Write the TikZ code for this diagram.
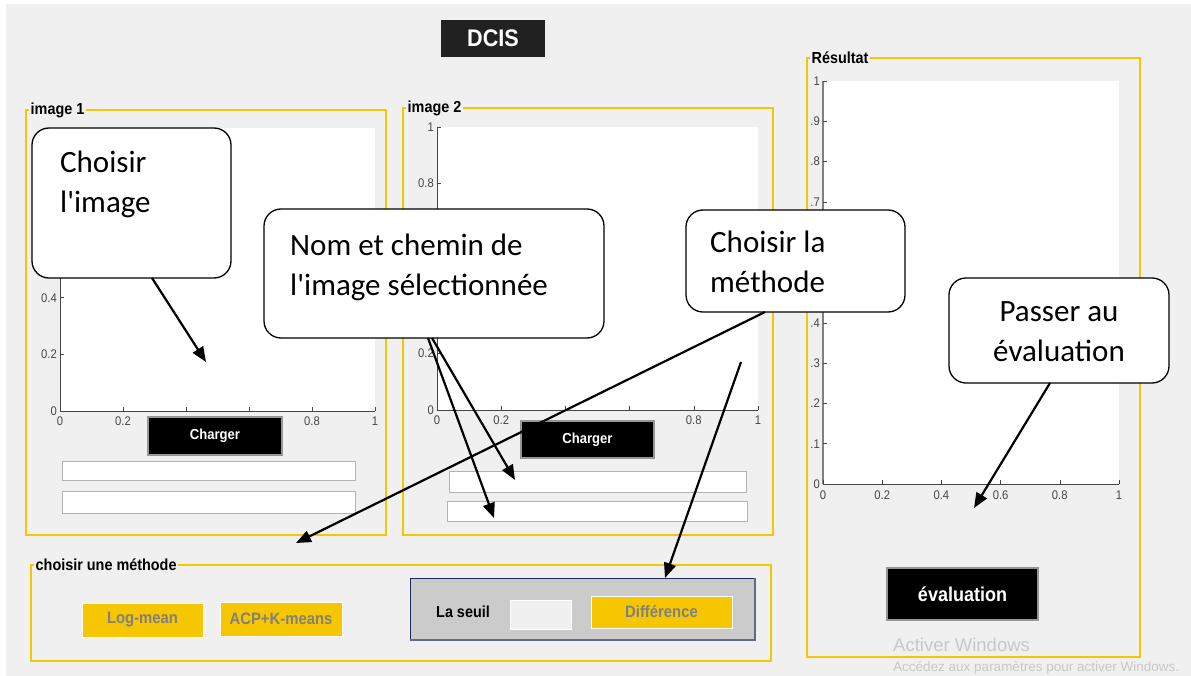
\documentclass[tikz,border=0pt]{standalone}
\usepackage{fontspec}
\setmainfont{Carlito}
\newfontfamily\gui[FakeStretch=0.9]{Liberation Sans}
\newfontfamily\win{Liberation Sans}
\usetikzlibrary{arrows.meta,calc}
\definecolor{bggray}{RGB}{240,240,240}
\definecolor{ylw}{RGB}{246,198,0}
\definecolor{tickc}{RGB}{70,70,70}
\definecolor{btnborder}{RGB}{150,150,150}
\definecolor{subgray}{RGB}{203,203,203}
\definecolor{navy}{RGB}{30,40,90}
\definecolor{wmark}{RGB}{200,200,200}
\tikzset{
  box/.style={anchor=north west, inner sep=0pt, outer sep=0pt},
  panel/.style={box, draw=ylw, line width=1.8pt},
  ptitle/.style={anchor=west, fill=bggray, inner sep=1.5pt, font=\gui\bfseries\fontsize{16}{16}\selectfont},
  blackbtn/.style={box, fill=black, draw=btnborder, line width=1.5pt, text=white, font=\gui\bfseries\fontsize{14.5}{14.5}\selectfont},
  ybtn/.style={box, fill=ylw, draw=white, line width=1pt, text=gray, font=\gui\bfseries\fontsize{16.5}{16.5}\selectfont},
  field/.style={box, fill=white, draw=gray!60, line width=0.8pt},
  plot/.style={box, fill=white},
  ticklab/.style={text=tickc, inner sep=1pt, font=\gui\fontsize{12.5}{12.5}\selectfont},
  callout/.style={box, draw=black, line width=1.3pt, fill=white, rounded corners=17pt},
  ctext/.style={anchor=north west, align=left, inner sep=0pt, font=\fontsize{31}{40}\selectfont},
  arr/.style={-{Triangle[length=15pt,width=12pt]}, line width=2.2pt},
}
\begin{document}
\begin{tikzpicture}[x=1pt,y=-1pt]
\useasboundingbox (0,0) rectangle (1191,676);
\fill[white] (0,0) rectangle (1191,676);
\fill[bggray] (6,4) rectangle (1191,676);

% title
\node[box, fill=black!87, minimum width=104pt, minimum height=37pt, text=white, font=\gui\bfseries\fontsize{24}{24}\selectfont] (dcis) at (441,20) {DCIS};

% ---------------- panel image 1
\node[panel, minimum width=360pt, minimum height=425pt] (p1) at (26,110) {};
\node[ptitle] at (29,110) {image 1};
\node[plot, minimum width=315pt, minimum height=283pt] (ax1) at (60,128) {};
\draw[tickc, line width=0.8pt] (60,128) -- (60,411) -- (375,411);
\foreach \v in {0,...,5}{
  \draw[tickc, line width=0.6pt] (60,411-56.6*\v) -- +(4,0);
  \draw[tickc, line width=0.6pt] (60+63*\v,411) -- +(0,-4);
}
\foreach \v/\l in {0/0,1/0.2,2/0.4}{
  \node[ticklab, anchor=east] at (58,411-56.6*\v) {\l};
}
\foreach \v/\l in {0/0,1/0.2,4/0.8,5/1}{
  \node[ticklab, anchor=north] at (60+63*\v,416) {\l};
}
\node[blackbtn, minimum width=134pt, minimum height=38pt] (ch1) at (148,417) {Charger};
\node[field, minimum width=293pt, minimum height=19pt] (f11) at (62,461) {};
\node[field, minimum width=293pt, minimum height=22pt] (f12) at (62,491) {};

% ---------------- panel image 2
\node[panel, minimum width=370pt, minimum height=427pt] (p2) at (403,108) {};
\node[ptitle] at (406,108) {image 2};
\node[plot, minimum width=321pt, minimum height=283pt] (ax2) at (437,127) {};
\draw[tickc, line width=0.8pt] (437,127) -- (437,410) -- (758,410);
\foreach \v in {0,...,5}{
  \draw[tickc, line width=0.6pt] (437,410-56.6*\v) -- +(4,0);
  \draw[tickc, line width=0.6pt] (437+64.2*\v,410) -- +(0,-4);
}
\foreach \v/\l in {0/0,1/0.2,4/0.8,5/1}{
  \node[ticklab, anchor=east] at (435,410-56.6*\v) {\l};
  \node[ticklab, anchor=north] at (437+64.2*\v,415) {\l};
}
\node[blackbtn, minimum width=133pt, minimum height=37pt] (ch2) at (521,421) {Charger};
\node[field, minimum width=297pt, minimum height=21pt] (f21) at (449,471) {};
\node[field, minimum width=300pt, minimum height=20pt] (f22) at (447,501) {};

% ---------------- panel Résultat
\node[panel, minimum width=333pt, minimum height=599pt] (p3) at (807,58) {};
\node[ptitle] at (810,58) {Résultat};
\node[plot, minimum width=296pt, minimum height=403pt] (ax3) at (823,81) {};
\draw[gray, line width=1.5pt] (823,81) -- (823,484);
\draw[tickc, line width=0.8pt] (823,484) -- (1119,484);
\foreach \v in {0,...,10}{
  \draw[tickc, line width=0.6pt] (823,484-40.3*\v) -- +(4,0);
}
\foreach \v/\l in {0/0,1/.1,2/.2,3/.3,4/.4,7/.7,8/.8,9/.9,10/1}{
  \node[ticklab, anchor=east] at (821,484-40.3*\v) {\l};
}
\foreach \v/\l in {0/0,1/0.2,2/0.4,3/0.6,4/0.8,5/1}{
  \draw[tickc, line width=0.6pt] (823+59.2*\v,484) -- +(0,-4);
  \node[ticklab, anchor=north] at (823+59.2*\v,490) {\l};
}
\node[blackbtn, minimum width=151pt, minimum height=52pt, font=\gui\bfseries\fontsize{20}{20}\selectfont] (eval) at (887,568) {évaluation};
\node[anchor=west, text=wmark, inner sep=0pt, font=\win\fontsize{18.5}{18.5}\selectfont] (w1) at (893,645) {Activer Windows};
\node[anchor=west, text=wmark, inner sep=0pt, font=\win\fontsize{13.5}{13.5}\selectfont] (w2) at (893,668) {Accédez aux paramètres pour activer Windows.};

% ---------------- panel choisir une méthode
\node[panel, minimum width=740pt, minimum height=96pt] (p4) at (31,565) {};
\node[ptitle] at (34,565) {choisir une méthode};
\node[ybtn, minimum width=121pt, minimum height=34pt] (lm) at (82,603) {Log-mean};
\node[ybtn, minimum width=122pt, minimum height=34pt] (acp) at (220,602) {ACP+K-means};
\node[box, fill=subgray, minimum width=345pt, minimum height=62pt] (sub) at (410,578) {};
\draw[navy, line width=1pt] (410,640) -- (410,578) -- (755,578);
\draw[navy!70, line width=1.2pt] (410,640) -- (755,640) -- (755,578);
\node[anchor=west, inner sep=0pt, font=\gui\bfseries\fontsize{16}{16}\selectfont] (seuil) at (436,612) {La seuil};
\node[box, fill=bggray, draw=white, line width=1pt, minimum width=61pt, minimum height=29pt] (ed) at (510,600) {};
\node[ybtn, minimum width=141pt, minimum height=32pt] (diff) at (591,596) {Différence};

% ---------------- callouts
\node[callout, minimum width=199pt, minimum height=150pt] (c1) at (32,128) {};
\node[ctext] at (60,151) {Choisir\\l\textquotesingle image};
\node[callout, minimum width=340pt, minimum height=129pt] (c2) at (264,209) {};
\node[ctext] at (290,234) {Nom et chemin de\\l\textquotesingle image sélectionnée};
\node[callout, minimum width=219pt, minimum height=102pt] (c3) at (686,210) {};
\node[ctext] at (710,231) {Choisir la\\méthode};
\node[callout, minimum width=220pt, minimum height=105pt] (c4) at (949,278) {};
\node[ctext, align=center, anchor=north] at (1059,301) {Passer au\\évaluation};

% ---------------- arrows
\coordinate (t1) at (206,362);
\coordinate (t2a) at (494,518);
\coordinate (t2b) at (515,480);
\coordinate (t3) at (296,543);
\coordinate (s5) at (741,362);
\coordinate (t5) at (665,578);
\coordinate (t6) at (974,508);
\draw[arr] ($(c1.south west)+(120,0)$) -- (t1);
\draw[arr] ($(c2.south west)+(164,0)$) -- (t2a);
\draw[arr] ($(c2.south west)+(168,0)$) -- (t2b);
\draw[arr] ($(c3.south west)+(79,0)$) -- (t3);
\draw[arr] (s5) -- (t5);
\draw[arr] ($(c4.south west)+(101,0)$) -- (t6);
\end{tikzpicture}
\end{document}
